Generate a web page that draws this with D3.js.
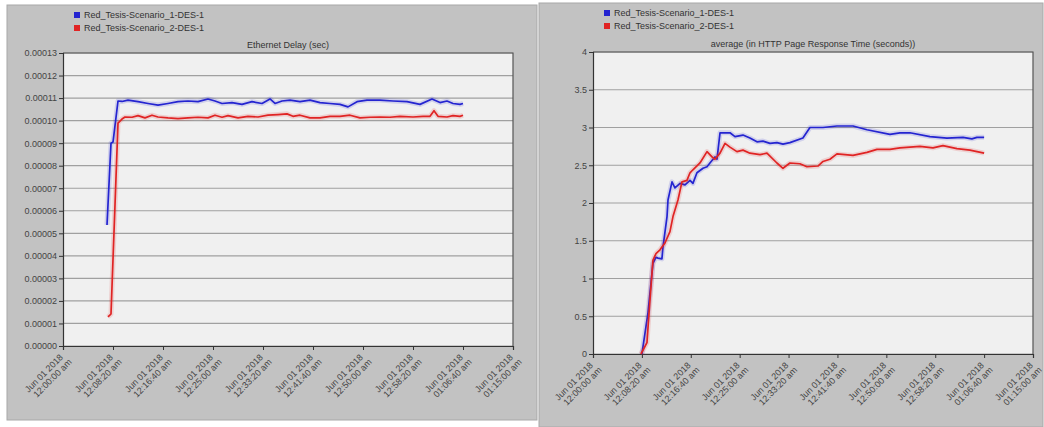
<!DOCTYPE html>
<html>
<head>
<meta charset="utf-8">
<script src="https://cdn.jsdelivr.net/npm/d3@7"></script>
<style>
  body { margin: 0; background: #fff; }
  svg { display: block; font-family: "Liberation Sans", Arial, sans-serif; }
  .tick text { fill: #444; font-size: 9px; }
</style>
</head>
<body>
<div id="chart"></div>
<script>
// Two OPNET style panels: Ethernet delay and HTTP page response time

var seriesNames = ["Red_Tesis-Scenario_1-DES-1", "Red_Tesis-Scenario_2-DES-1"];
var seriesColors = ["#2424d0", "#e02424"];

// x tick times (seconds from 12:00:00 am) and their labels
var tickTimes = [0, 500, 1000, 1500, 2000, 2500, 3000, 3500, 4000, 4500];
var tickLabels = ["12:00:00 am", "12:08:20 am", "12:16:40 am", "12:25:00 am", "12:33:20 am",
                  "12:41:40 am", "12:50:00 am", "12:58:20 am", "01:06:40 am", "01:15:00 am"];

// Ethernet Delay (sec), scenario 1 and 2: [seconds, value]
var delayS1 = [[440, 0.0000537], [480, 0.00009], [500, 0.0000905], [550, 0.0001087], [590, 0.0001085],
  [650, 0.0001091], [750, 0.0001084], [850, 0.0001076], [950, 0.0001069], [1050, 0.0001076],
  [1150, 0.0001084], [1250, 0.0001087], [1350, 0.0001084], [1450, 0.0001096], [1520, 0.0001087],
  [1590, 0.0001076], [1690, 0.000108], [1790, 0.0001072], [1890, 0.0001084], [1990, 0.0001076],
  [2070, 0.0001096], [2120, 0.0001076], [2190, 0.0001087], [2270, 0.0001091], [2370, 0.0001084],
  [2470, 0.0001091], [2570, 0.000108], [2670, 0.0001076], [2770, 0.0001072], [2850, 0.0001061],
  [2940, 0.0001084], [3040, 0.0001091], [3170, 0.0001091], [3300, 0.0001087], [3440, 0.0001084],
  [3570, 0.0001072], [3690, 0.0001096], [3770, 0.000108], [3840, 0.0001087], [3900, 0.0001076],
  [3970, 0.0001072], [4000, 0.0001076]];
var delayS2 = [[450, 0.0000129], [480, 0.0000142], [550, 0.0000989], [590, 0.0001007], [620, 0.0001016],
  [690, 0.0001015], [750, 0.0001022], [820, 0.0001012], [890, 0.0001024], [950, 0.0001016],
  [1050, 0.0001012], [1150, 0.0001009], [1250, 0.0001012], [1350, 0.0001015], [1450, 0.0001012],
  [1520, 0.0001024], [1590, 0.0001015], [1650, 0.0001022], [1750, 0.0001012], [1850, 0.0001019],
  [1950, 0.0001016], [2050, 0.0001024], [2150, 0.0001027], [2240, 0.000103], [2300, 0.0001019],
  [2370, 0.0001024], [2470, 0.0001012], [2570, 0.0001012], [2670, 0.0001019], [2770, 0.0001019],
  [2870, 0.0001024], [2970, 0.0001012], [3070, 0.0001015], [3170, 0.0001016], [3270, 0.0001015],
  [3370, 0.0001019], [3500, 0.0001016], [3600, 0.0001019], [3670, 0.0001019], [3710, 0.0001044],
  [3750, 0.0001019], [3840, 0.0001016], [3900, 0.0001022], [3970, 0.0001019], [4000, 0.0001024]];

// average (in HTTP Page Response Time (seconds))
var httpS1 = [[500, 0], [562, 0.54], [613, 1.2], [644, 1.28], [665, 1.27], [705, 1.26], [716, 1.42],
  [757, 1.82], [767, 2.04], [808, 2.28], [838, 2.2], [890, 2.26], [941, 2.24], [992, 2.3], [1022, 2.26],
  [1063, 2.4], [1125, 2.46], [1166, 2.48], [1196, 2.53], [1247, 2.61], [1268, 2.58], [1299, 2.93],
  [1401, 2.93], [1452, 2.88], [1534, 2.9], [1605, 2.86], [1677, 2.81], [1738, 2.82], [1810, 2.79],
  [1881, 2.8], [1943, 2.78], [2014, 2.8], [2147, 2.86], [2219, 3.0], [2352, 3.0], [2495, 3.02],
  [2659, 3.02], [2802, 2.97], [3037, 2.91], [3139, 2.93], [3241, 2.93], [3446, 2.88], [3620, 2.86],
  [3784, 2.87], [3875, 2.85], [3926, 2.87], [4000, 2.87]];
var httpS2 = [[490, 0], [552, 0.15], [573, 0.54], [613, 1.24], [644, 1.33], [685, 1.38], [736, 1.47],
  [787, 1.62], [818, 1.82], [869, 2.04], [910, 2.28], [961, 2.3], [992, 2.4], [1022, 2.44], [1094, 2.53],
  [1166, 2.68], [1217, 2.61], [1247, 2.58], [1299, 2.66], [1350, 2.79], [1401, 2.74], [1472, 2.68],
  [1534, 2.7], [1605, 2.66], [1708, 2.64], [1779, 2.66], [1881, 2.53], [1943, 2.46], [2014, 2.53],
  [2116, 2.52], [2188, 2.48], [2301, 2.49], [2352, 2.55], [2423, 2.58], [2495, 2.65], [2659, 2.63],
  [2802, 2.67], [2904, 2.71], [3037, 2.71], [3139, 2.73], [3344, 2.75], [3477, 2.73], [3579, 2.76],
  [3722, 2.72], [3855, 2.7], [4000, 2.66]];

var delayTicks = d3.range(0, 14).map(i => i * 0.00001);
var httpTicks = [0, 0.5, 1, 1.5, 2, 2.5, 3, 3.5, 4];

var svg = d3.select("#chart")
    .append("svg")
    .attr("width", 1044)
    .attr("height", 427);

drawPanel({
    box: [7, 5, 530, 415],
    plot: { left: 63, right: 513, top: 53, bottom: 346 },
    title: "Ethernet Delay (sec)",
    yMax: 0.00013, yTicks: delayTicks, yFormat: d3.format(".5f"),
    series: [delayS1, delayS2],
    legendX: 74
});

drawPanel({
    box: [539, 3, 504, 424],
    plot: { left: 593, right: 1033, top: 52, bottom: 354 },
    title: "average (in HTTP Page Response Time (seconds))",
    yMax: 4, yTicks: httpTicks, yFormat: d => String(d),
    series: [httpS1, httpS2],
    legendX: 604
});

function drawPanel(cfg) {
    var p = cfg.plot;
    var g = svg.append("g");

    // grey panel
    g.append("rect")
        .attr("x", cfg.box[0]).attr("y", cfg.box[1])
        .attr("width", cfg.box[2]).attr("height", cfg.box[3])
        .attr("fill", "#c2c2c2")
        .attr("stroke", "#a8a8a8");

    // plot area
    g.append("rect")
        .attr("x", p.left).attr("y", p.top)
        .attr("width", p.right - p.left).attr("height", p.bottom - p.top)
        .attr("fill", "#f0f0f0");

    var x = d3.scaleLinear().domain([0, 4500]).range([p.left, p.right]);
    var y = d3.scaleLinear().domain([0, cfg.yMax]).range([p.bottom, p.top]);

    // horizontal grid
    g.append("g")
        .selectAll("line")
        .data(cfg.yTicks)
        .join("line")
        .attr("x1", p.left).attr("x2", p.right)
        .attr("y1", d => y(d)).attr("y2", d => y(d))
        .attr("stroke", "#a0a0a0")
        .attr("stroke-width", 1.2);

    // plot border (top + right)
    g.append("path")
        .attr("d", "M" + p.left + "," + p.top + "H" + p.right + "V" + p.bottom)
        .attr("fill", "none")
        .attr("stroke", "#555")
        .attr("stroke-width", 1.2);

    // y axis
    var yAxis = g.append("g")
        .attr("transform", "translate(" + p.left + ",0)")
        .call(d3.axisLeft(y).tickValues(cfg.yTicks).tickFormat(cfg.yFormat).tickSize(4).tickPadding(2));
    yAxis.select(".domain").attr("stroke", "#333").attr("stroke-width", 1.2);
    yAxis.selectAll(".tick line").attr("stroke", "#333");

    // x axis
    var xAxis = g.append("g")
        .attr("transform", "translate(0," + p.bottom + ")")
        .call(d3.axisBottom(x).tickValues(tickTimes).tickSize(4).tickFormat(""));
    xAxis.select(".domain").attr("stroke", "#333").attr("stroke-width", 1.2);
    xAxis.selectAll(".tick line").attr("stroke", "#333");

    var lbl = xAxis.selectAll(".tick")
        .append("text")
        .attr("fill", "#444")
        .attr("font-size", "9px")
        .attr("text-anchor", "end")
        .attr("transform", "translate(0,12) rotate(-45)");
    lbl.append("tspan").attr("x", 0).attr("dy", 0).text("Jun 01 2018");
    lbl.append("tspan").attr("x", 3).attr("dy", "1.05em").text((d, i) => tickLabels[i]);

    // title
    g.append("text")
        .attr("x", (p.left + p.right) / 2)
        .attr("y", p.top - 5)
        .attr("text-anchor", "middle")
        .attr("font-size", "9px")
        .attr("fill", "#333")
        .text(cfg.title);

    // lines, with a soft halo like the original
    var line = d3.line().x(d => x(d[0])).y(d => y(d[1]));
    cfg.series.forEach(function (s, i) {
        g.append("path")
            .datum(s)
            .attr("fill", "none")
            .attr("stroke", seriesColors[i])
            .attr("stroke-opacity", 0.15)
            .attr("stroke-width", 5)
            .attr("stroke-linejoin", "round")
            .attr("d", line);
        g.append("path")
            .datum(s)
            .attr("fill", "none")
            .attr("stroke", seriesColors[i])
            .attr("stroke-width", 1.7)
            .attr("stroke-linejoin", "round")
            .attr("d", line);
    });

    // legend
    var leg = g.selectAll(".leg")
        .data(seriesNames)
        .join("g")
        .attr("transform", (d, i) => "translate(" + cfg.legendX + "," + (cfg.box[1] + 7 + i * 13) + ")");
    leg.append("rect")
        .attr("width", 6).attr("height", 6)
        .attr("fill", (d, i) => seriesColors[i]);
    leg.append("text")
        .attr("x", 10).attr("y", 6)
        .attr("font-size", "9px")
        .attr("fill", "#333")
        .text(d => d);
}
</script>
</body>
</html>
